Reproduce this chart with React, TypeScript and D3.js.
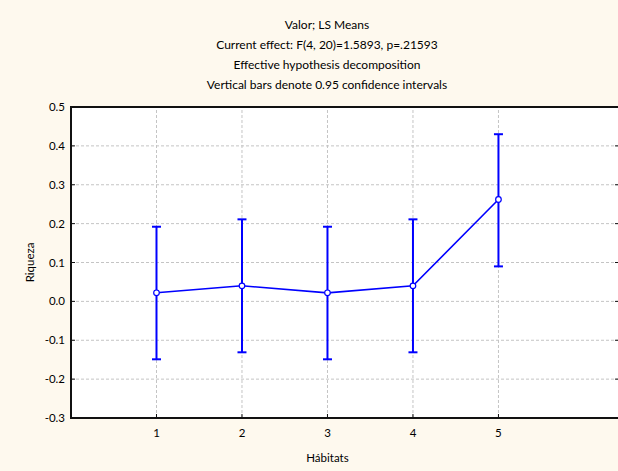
import React from "react";
import * as d3 from "d3";

const habitats = [1, 2, 3, 4, 5];
const means = [0.022, 0.04, 0.022, 0.04, 0.262];
const lower = [-0.149, -0.131, -0.149, -0.131, 0.09];
const upper = [0.192, 0.211, 0.192, 0.211, 0.43];
const yTicks = [-0.3, -0.2, -0.1, 0.0, 0.1, 0.2, 0.3, 0.4, 0.5];
const titleLines = [
  "Valor; LS Means",
  "Current effect: F(4, 20)=1.5893, p=.21593",
  "Effective hypothesis decomposition",
  "Vertical bars denote 0.95 confidence intervals",
];

const W = 618;
const H = 471;
const margin = { left: 71, right: -1, top: 107, bottom: 53 };
const FONT = "Lato, 'Open Sans', sans-serif";

const fmt = d3
  .formatLocale({
    decimal: ".",
    thousands: ",",
    grouping: [3],
    currency: ["", ""],
    minus: "-",
  })
  .format(".1f");

export default function App() {
  const x = d3.scaleLinear().domain([0, 6.41]).range([margin.left, W - margin.right]);
  const y = d3.scaleLinear().domain([-0.3, 0.5]).range([H - margin.bottom, margin.top]);
  const line = d3
    .line<number>()
    .x((_, i) => x(habitats[i]))
    .y((d) => y(d));
  const blue = "#0000ff";
  const x0 = x.range()[0];
  const x1 = x.range()[1];
  const y0 = y.range()[0];
  const y1 = y.range()[1];

  return (
    <svg
      width={W}
      height={H}
      style={{ position: "absolute", left: 0, top: 0, background: "#fef9ee" }}
    >
      <rect x={0} y={0} width={W} height={H} fill="#fef9ee" />
      <rect x={x0} y={y1} width={x1 - x0} height={y0 - y1} fill="#ffffff" />
      {titleLines.map((t, i) => (
        <text
          key={i}
          x={327}
          y={29 + i * 20}
          textAnchor="middle"
          fontFamily={FONT}
          fontSize={12}
          fill="#000"
        >
          {t}
        </text>
      ))}
      {/* grid */}
      {yTicks.slice(1, -1).map((t) => (
        <line
          key={"gy" + t}
          x1={x0}
          x2={x1}
          y1={y(t)}
          y2={y(t)}
          stroke="#c4c4c4"
          strokeWidth={1}
          strokeDasharray="3,2"
        />
      ))}
      {habitats.map((h) => (
        <line
          key={"gx" + h}
          x1={x(h)}
          x2={x(h)}
          y1={y0}
          y2={y1}
          stroke="#c4c4c4"
          strokeWidth={1}
          strokeDasharray="3,2"
        />
      ))}
      {/* frame */}
      <rect
        x={x0}
        y={y1}
        width={x1 - x0}
        height={y0 - y1}
        fill="none"
        stroke="#111"
        strokeWidth={2}
      />
      {/* ticks */}
      {yTicks.map((t) => (
        <g key={"ty" + t}>
          <line x1={x0} x2={x0 + 4} y1={y(t)} y2={y(t)} stroke="#111" strokeWidth={1} />
          <line x1={x1 - 4} x2={x1} y1={y(t)} y2={y(t)} stroke="#111" strokeWidth={1} />
          <text
            x={x0 - 6}
            y={y(t)}
            dy="0.35em"
            textAnchor="end"
            fontFamily={FONT}
            fontSize={11.5}
            fill="#000"
          >
            {fmt(t)}
          </text>
        </g>
      ))}
      {habitats.map((h) => (
        <g key={"tx" + h}>
          <line x1={x(h)} x2={x(h)} y1={y0} y2={y0 - 4} stroke="#111" strokeWidth={1} />
          <text
            x={x(h)}
            y={y0 + 19}
            textAnchor="middle"
            fontFamily={FONT}
            fontSize={11.5}
            fill="#000"
          >
            {h}
          </text>
        </g>
      ))}
      <text
        x={x(3)}
        y={462}
        textAnchor="middle"
        fontFamily={FONT}
        fontSize={11.5}
        fill="#000"
      >
        Hábitats
      </text>
      <text
        transform={`translate(34,${y(0.1)}) rotate(-90)`}
        textAnchor="middle"
        fontFamily={FONT}
        fontSize={11.5}
        fill="#000"
      >
        Riqueza
      </text>
      {/* confidence intervals */}
      {habitats.map((h, i) => (
        <g key={"ci" + h} stroke={blue} strokeWidth={2} fill="none">
          <line x1={x(h)} x2={x(h)} y1={y(lower[i])} y2={y(upper[i])} />
          <line x1={x(h) - 4.5} x2={x(h) + 4.5} y1={y(lower[i])} y2={y(lower[i])} />
          <line x1={x(h) - 4.5} x2={x(h) + 4.5} y1={y(upper[i])} y2={y(upper[i])} />
        </g>
      ))}
      <path d={line(means) || ""} fill="none" stroke={blue} strokeWidth={1.6} />
      {habitats.map((h, i) => (
        <circle
          key={"pt" + h}
          cx={x(h)}
          cy={y(means[i])}
          r={2.8}
          fill="#fff"
          stroke={blue}
          strokeWidth={1.2}
        />
      ))}
    </svg>
  );
}
